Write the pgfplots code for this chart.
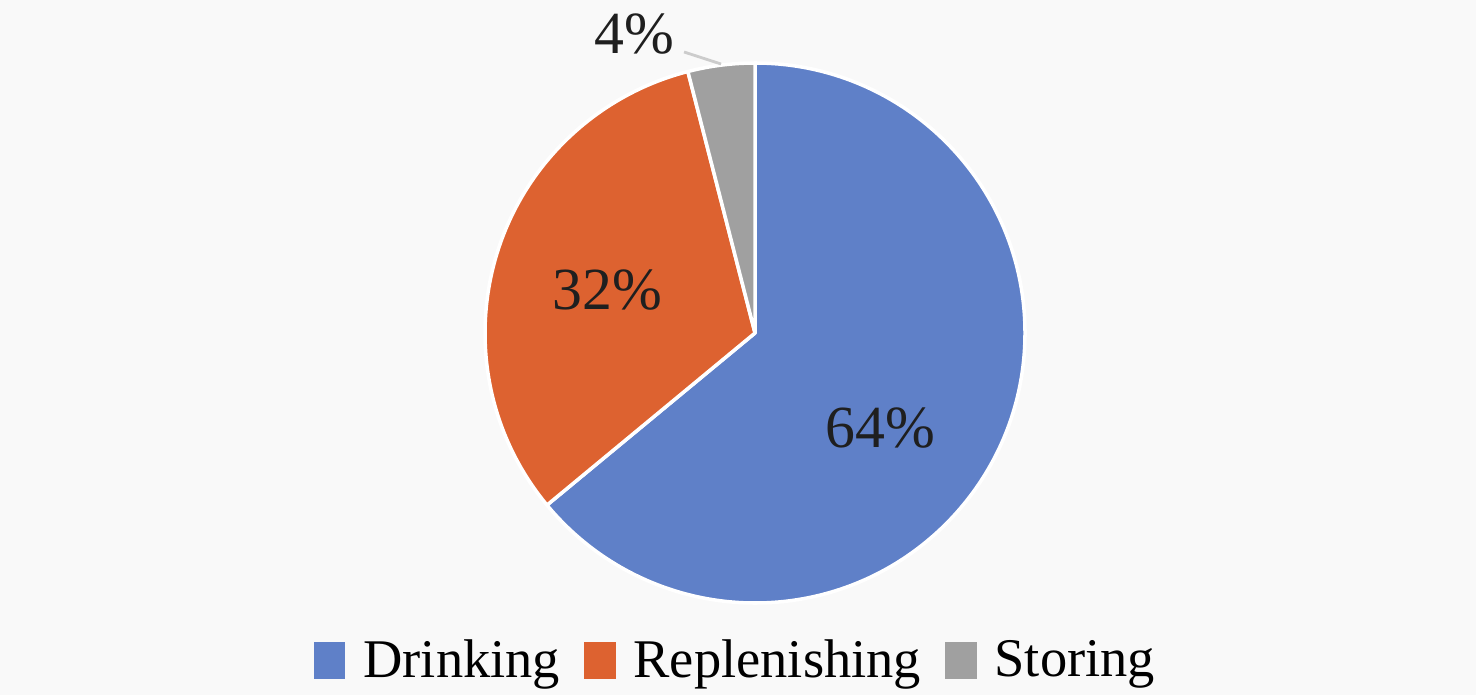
\documentclass[border=0pt]{standalone}
\usepackage{pgfplots}
\usepackage{pgfplotstable}
\pgfplotsset{compat=1.18}
\usepackage{fontspec}
\setmainfont{Liberation Serif}
\definecolor{bgc}{RGB}{249,249,249}
\definecolor{cdrink}{RGB}{95,128,200}
\definecolor{creple}{RGB}{221,98,48}
\definecolor{cstore}{RGB}{160,160,160}
\pgfplotstableread{
label value
Drinking 64
Replenishing 32
Storing 4
}\pietable
\begin{document}
\begin{tikzpicture}
\pgfplotstablegetelem{0}{value}\of\pietable \let\va\pgfplotsretval
\pgfplotstablegetelem{1}{value}\of\pietable \let\vb\pgfplotsretval
\pgfplotstablegetelem{2}{value}\of\pietable \let\vc\pgfplotsretval
\pgfmathsetmacro\aA{90}
\pgfmathsetmacro\aB{90-\va*3.6}
\pgfmathsetmacro\aC{\aB-\vb*3.6}
\pgfmathsetmacro\aD{\aC-\vc*3.6}
\begin{axis}[
  hide axis, scale only axis,
  width=14.76cm, height=6.95cm,
  xmin=0, xmax=1476, ymin=0, ymax=695,
  clip=false,
  legend columns=3,
  legend style={draw=none, fill=none, at={(axis cs:738,34)}, anchor=center,
    font=\fontsize{15.5}{18}\selectfont, inner sep=0pt,
    /tikz/every odd column/.append style={column sep=0.11cm},
    /tikz/every even column/.append style={column sep=0.17cm}},
  legend cell align=left,
]
\fill[bgc] (axis cs:0,0) rectangle (axis cs:1476,695);
\addlegendimage{legend image code/.code={\fill[cdrink] (0cm,-0.17cm) rectangle (0.3cm,0.18cm);}}
\addlegendentry{Drinking}
\addlegendimage{legend image code/.code={\fill[creple] (0cm,-0.17cm) rectangle (0.3cm,0.18cm);}}
\addlegendentry{Replenishing}
\addlegendimage{legend image code/.code={\fill[cstore] (0cm,-0.17cm) rectangle (0.3cm,0.18cm);}}
\addlegendentry{Storing}
\filldraw[fill=cdrink, draw=white, line width=1pt, line join=round] (axis cs:755,362) -- ++(\aA:2.70cm) arc[start angle=\aA, end angle=\aB, radius=2.70cm] -- cycle;
\filldraw[fill=creple, draw=white, line width=1pt, line join=round] (axis cs:755,362) -- ++(\aB:2.70cm) arc[start angle=\aB, end angle=\aC, radius=2.70cm] -- cycle;
\filldraw[fill=cstore, draw=white, line width=1pt, line join=round] (axis cs:755,362) -- ++(\aC:2.70cm) arc[start angle=\aC, end angle=\aD, radius=2.70cm] -- cycle;
\draw[black!20, line width=0.8pt] (axis cs:684,643) -- (axis cs:721,631);
\node[font=\fontsize{17}{20}\selectfont, text=black!88] at (axis cs:880,267) {64\%};
\node[font=\fontsize{17}{20}\selectfont, text=black!88] at (axis cs:607,405) {32\%};
\node[font=\fontsize{17}{20}\selectfont, text=black!88] at (axis cs:634,661) {4\%};
\end{axis}
\end{tikzpicture}
\end{document}
